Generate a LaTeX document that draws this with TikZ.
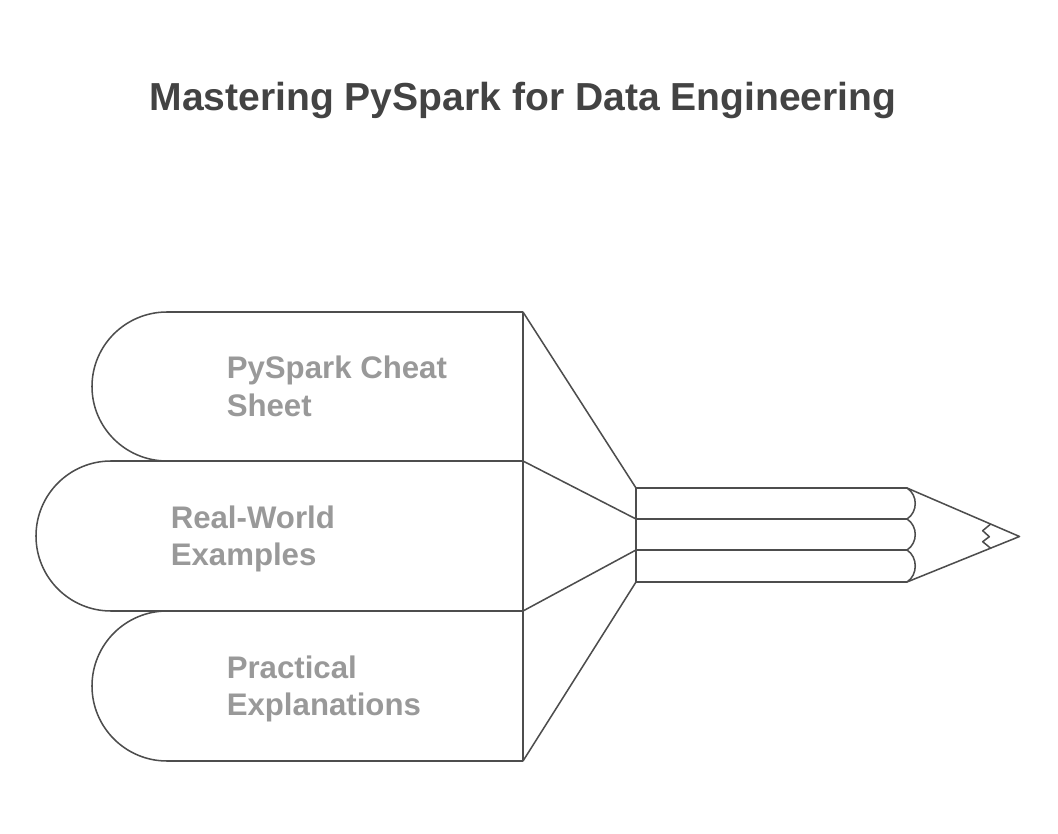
\documentclass[tikz,border=0pt]{standalone}
\usepackage {xcolor}
\usepackage {fontspec}
\setmainfont{Liberation Sans}
\definecolor{inkline}{HTML}{4D4D4D}
\definecolor{inktitle}{HTML}{434343}
\definecolor{inklabel}{HTML}{999999}
\tikzset{
  outline/.style={draw=inkline, line width=1.15pt, line join=round},
  titletext/.style={text=inktitle, font=\fontsize{29.3}{35}\selectfont\bfseries},
  bandtext/.style={text=inklabel, anchor=west, align=left, font=\fontsize{23.4}{28}\selectfont\bfseries}
}
\begin{document}
\begin{tikzpicture}[x=0.75pt,y=-0.75pt]
\tikzstyle{every node}+=[inner sep=0pt]
\useasboundingbox (0,0) rectangle (1058,834);
\node [titletext] (title) at (523,100.5) {Mastering PySpark for Data Engineering};
\draw [outline] (523,312) -- (167,312) arc (270:90:75 and 74.5) -- (523,461);
\draw [outline] (523,461) -- (111,461) arc (270:90:75 and 75) -- (523,611);
\draw [outline] (523,611) -- (167,611) arc (270:90:75 and 75) -- (523,761);
\draw [outline] (523,312) -- (523,761);
\node [bandtext] (sheet) at (226.5,386.5) {PySpark Cheat\\Sheet};
\node [bandtext] (examples) at (170.5,539) {Real-World\\Examples};
\node [bandtext] (explanations) at (226.5,689) {Practical\\Explanations};
\draw [outline] (523,312) -- (636,488);
\draw [outline] (523,461) -- (636,519);
\draw [outline] (523,611) -- (636,550);
\draw [outline] (523,761) -- (636,582);
\draw [outline] (636,488) -- (636,582);
\foreach \ya/\yb in {488/519,519/550,550/582} {
  \draw [outline] (636,\ya) -- (907,\ya) .. controls (918,\ya+7) and (918,\yb-7) .. (907,\yb);
}
\draw [outline] (636,582) -- (907,582);
\draw [outline] (907,488) -- (1019.5,536.5) -- (907,582);
\draw [outline] (990.7,524) -- (982.7,530.7) -- (989.3,536.7) -- (982.7,541.7) -- (990.7,548.3);
\end{tikzpicture}
\end{document}
